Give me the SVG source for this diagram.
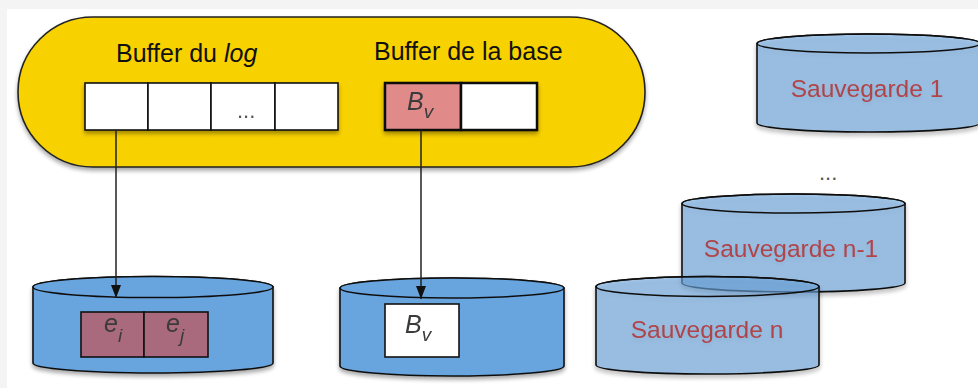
<svg xmlns="http://www.w3.org/2000/svg" width="978" height="388" viewBox="0 0 978 388">
  <defs>
    <filter id="shadow" x="-10%" y="-10%" width="120%" height="130%">
      <feGaussianBlur in="SourceAlpha" stdDeviation="2"/>
      <feOffset dx="0" dy="3" result="b"/>
      <feComponentTransfer><feFuncA type="linear" slope="0.35"/></feComponentTransfer>
      <feMerge><feMergeNode/><feMergeNode in="SourceGraphic"/></feMerge>
    </filter>
    <marker id="arrow" viewBox="0 0 13 10" refX="13" refY="5" markerWidth="13" markerHeight="10" markerUnits="userSpaceOnUse" orient="auto">
      <path d="M0,0 L13,5 L0,10 Z" fill="#111"/>
    </marker>
  </defs>
  <style>
    text { font-family: "Liberation Sans", Arial, Helvetica, sans-serif; }
    .title { font-size: 25px; fill: #111; }
    .cell { fill: #ffffff; stroke: #111; stroke-width: 1.6; }
    .sym { font-size: 25px; font-style: italic; fill: #3a3a3a; }
    .sub { font-size: 19px; font-style: italic; fill: #3a3a3a; }
    .cyl { stroke: #111; stroke-width: 1.6; }
    .disk { fill: #68a5df; }
    .save { fill: #6aa5de; fill-opacity: 0.58; }
    .savelabel { font-size: 24.5px; fill: #b0454a; text-anchor: middle; }
    .dots { font-size: 22px; fill: #555; }
    .link { stroke: #222; stroke-width: 1.5; fill: none; }
  </style>

  <!-- frame -->
  <rect x="0" y="0" width="978" height="388" fill="#f4f4f4"/>
  <rect x="7" y="9" width="971" height="379" fill="#ffffff"/>

  <!-- main memory: the two buffers -->
  <g id="memory">
    <rect x="18" y="17" width="627" height="150" rx="75" ry="75" fill="#f8d100" stroke="#222" stroke-width="1.6" filter="url(#shadow)"/>
    <text class="title" x="116" y="62">Buffer du <tspan font-style="italic">log</tspan></text>
    <text class="title" x="374" y="60">Buffer de la base</text>
  </g>

  <g id="log-buffer" filter="url(#shadow)">
    <rect class="cell" x="85" y="83" width="63" height="47"/>
    <rect class="cell" x="148" y="83" width="63" height="47"/>
    <rect class="cell" x="211" y="83" width="64" height="47"/>
    <rect class="cell" x="275" y="83" width="63" height="47"/>
    <text class="dots" x="237" y="118">...</text>
  </g>

  <g id="base-buffer" filter="url(#shadow)">
    <rect x="385" y="83" width="76" height="47" fill="#e08a8a" stroke="#111" stroke-width="2.5"/>
    <rect x="461" y="83" width="76" height="47" fill="#ffffff" stroke="#111" stroke-width="2.5"/>
    <text class="sym" x="407" y="110">B<tspan class="sub" dy="8">v</tspan></text>
  </g>

  <!-- log disk -->
  <g id="log-disk" filter="url(#shadow)">
    <path class="cyl disk" d="M33,287 L33,363 A120,10 0 0 0 273,363 L273,287 A120,10.5 0 0 0 33,287 Z"/>
    <ellipse class="cyl disk" cx="153" cy="287" rx="120" ry="10.5"/>
    <rect x="81" y="312" width="63" height="45" fill="#a86a7b" stroke="#111" stroke-width="1.6"/>
    <rect x="144" y="312" width="64" height="45" fill="#a86a7b" stroke="#111" stroke-width="1.6"/>
    <text class="sym" x="104" y="332">e<tspan class="sub" dy="10">i</tspan></text>
    <text class="sym" x="166" y="332">e<tspan class="sub" dy="10">j</tspan></text>
  </g>

  <!-- database disk -->
  <g id="base-disk" filter="url(#shadow)">
    <path class="cyl disk" d="M340,288 L340,366 A112,10 0 0 0 564,366 L564,288 A112,10 0 0 0 340,288 Z"/>
    <ellipse class="cyl disk" cx="452" cy="288" rx="112" ry="10"/>
    <rect x="385" y="304" width="74" height="53" fill="#ffffff" stroke="#111" stroke-width="1.6"/>
    <text class="sym" x="405" y="333">B<tspan class="sub" dy="8">v</tspan></text>
  </g>

  <!-- backups -->
  <g id="backup-1" filter="url(#shadow)">
    <path class="cyl save" d="M757,43.5 L757,123 A111.5,9 0 0 0 980,123 L980,43.5 A111.5,9.5 0 0 0 757,43.5 Z"/>
    <ellipse class="cyl" fill="none" cx="868.5" cy="43.5" rx="111.5" ry="9.5"/>
    <text class="savelabel" x="867" y="97">Sauvegarde 1</text>
  </g>

  <text class="dots" x="819" y="180">...</text>

  <g id="backup-n-1" filter="url(#shadow)">
    <path class="cyl save" d="M682,203.5 L682,283 A111.5,9 0 0 0 905,283 L905,203.5 A111.5,9.5 0 0 0 682,203.5 Z"/>
    <ellipse class="cyl" fill="none" cx="793.5" cy="203.5" rx="111.5" ry="9.5"/>
    <text class="savelabel" x="791" y="257">Sauvegarde n-1</text>
  </g>

  <g id="backup-n" filter="url(#shadow)">
    <path class="cyl save" d="M596,286.5 L596,365 A111.5,9 0 0 0 819,365 L819,286.5 A111.5,10 0 0 0 596,286.5 Z"/>
    <ellipse class="cyl" fill="none" cx="707.5" cy="286.5" rx="111.5" ry="10"/>
    <text class="savelabel" x="707" y="338">Sauvegarde n</text>
  </g>

  <!-- writes from the buffers to the disks -->
  <g id="connectors">
    <line class="link" x1="116" y1="130" x2="116" y2="298" marker-end="url(#arrow)"/>
    <line class="link" x1="421" y1="130" x2="421" y2="299" marker-end="url(#arrow)"/>
  </g>
</svg>
